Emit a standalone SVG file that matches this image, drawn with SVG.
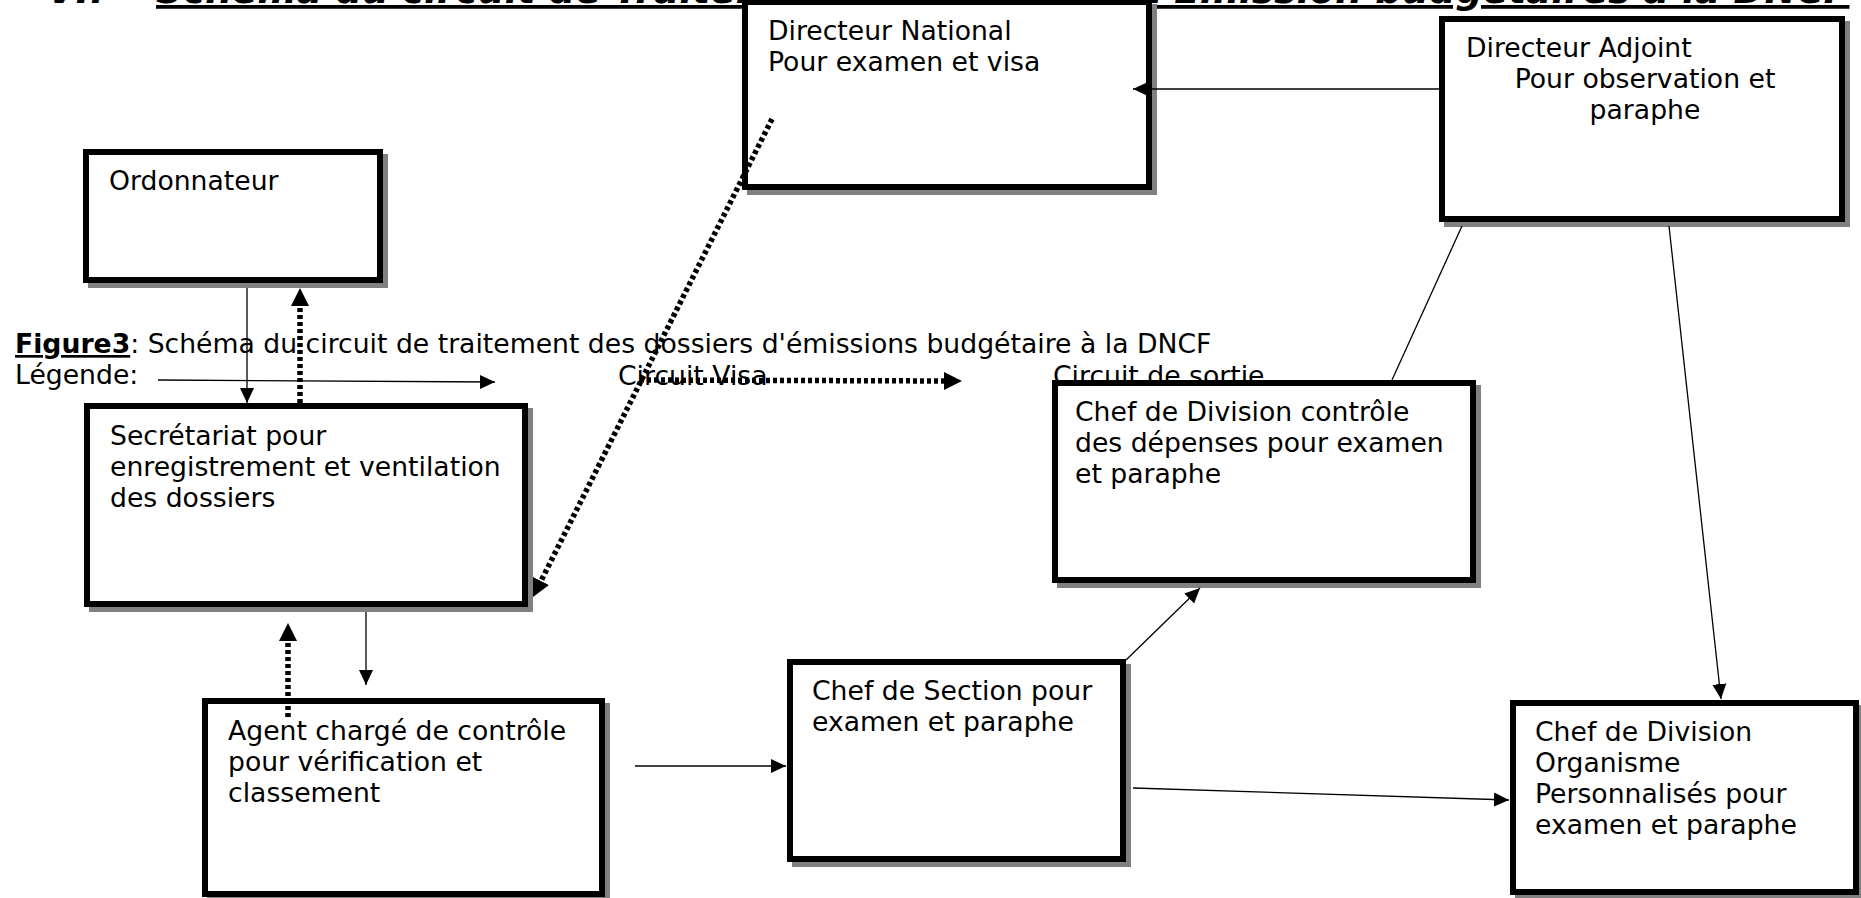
<svg xmlns="http://www.w3.org/2000/svg" width="1861" height="898" viewBox="0 0 1861 898">
<style>
.t{font-family:"DejaVu Sans","Liberation Sans",sans-serif;font-size:26.67px;fill:#000}
.ti{font-family:"DejaVu Sans","Liberation Sans",sans-serif;font-size:37.6px;font-weight:bold;font-style:italic;fill:#000}
.box{fill:#fff;stroke:#000;stroke-width:6}
.sh{fill:#808080}
.ln{stroke:#000;stroke-width:1.3;fill:none}
.dot{stroke:#000;stroke-width:5.5;stroke-dasharray:4 3;fill:none}
</style>
<defs>
<marker id="ah" markerUnits="userSpaceOnUse" markerWidth="16" markerHeight="16" viewBox="0 0 16 16" refX="15" refY="8" orient="auto"><path d="M0,1 L15,8 L0,15 z" fill="#000"/></marker>
<marker id="ahd" markerUnits="userSpaceOnUse" markerWidth="18" markerHeight="18" viewBox="0 0 18 18" refX="5" refY="9" orient="auto"><path d="M0,0 L18,9 L0,18 z" fill="#000"/></marker>
</defs>
<rect width="1861" height="898" fill="#fff"/>
<g id="title">
<text class="ti" x="47" y="3">VI.</text>
<text class="ti" x="156" y="3" text-decoration="underline">Schéma du circuit de Traitement des dossiers d'Émission budgétaires à la DNCF</text>
</g>
<g id="caption">
<text class="t" x="15" y="353"><tspan font-weight="bold" text-decoration="underline">Figure3</tspan>: Schéma du circuit de traitement des dossiers d'émissions budgétaire à la DNCF</text>
<text class="t" x="15" y="384">Légende:</text>
<text class="t" x="618" y="385">Circuit Visa</text>
<text class="t" x="1053" y="385">Circuit de sortie</text>
</g>
<g id="directeur-national">
<rect class="sh" x="747" y="4" width="410" height="191"/>
<rect class="box" x="745" y="2" width="404" height="185"/>
<text class="t" x="768" y="40">Directeur National</text>
<text class="t" x="768" y="71">Pour examen et visa</text>
</g>
<g id="directeur-adjoint">
<rect class="sh" x="1444" y="21" width="406" height="206"/>
<rect class="box" x="1442" y="19" width="400" height="200"/>
<text class="t" x="1466" y="57">Directeur Adjoint</text>
<text class="t" x="1645" y="88" text-anchor="middle">Pour observation et</text>
<text class="t" x="1645" y="119" text-anchor="middle">paraphe</text>
</g>
<g id="ordonnateur">
<rect class="sh" x="88" y="154" width="300" height="134"/>
<rect class="box" x="86" y="152" width="294" height="128"/>
<text class="t" x="109" y="190">Ordonnateur</text>
</g>
<g id="secretariat">
<rect class="sh" x="89" y="408" width="444" height="204"/>
<rect class="box" x="87" y="406" width="438" height="198"/>
<text class="t" x="110" y="445">Secrétariat pour</text>
<text class="t" x="110" y="476">enregistrement et ventilation</text>
<text class="t" x="110" y="507">des dossiers</text>
</g>
<g id="agent-controle">
<rect class="sh" x="207" y="703" width="403" height="199"/>
<rect class="box" x="205" y="701" width="397" height="193"/>
<text class="t" x="228" y="740">Agent chargé de contrôle</text>
<text class="t" x="228" y="771">pour vérification et</text>
<text class="t" x="228" y="802">classement</text>
</g>
<g id="chef-section">
<rect class="sh" x="792" y="664" width="339" height="203"/>
<rect class="box" x="790" y="662" width="333" height="197"/>
<text class="t" x="812" y="700">Chef de Section pour</text>
<text class="t" x="812" y="731">examen et paraphe</text>
</g>
<g id="chef-division-controle">
<rect class="sh" x="1057" y="385" width="424" height="203"/>
<rect class="box" x="1055" y="383" width="418" height="197"/>
<text class="t" x="1075" y="421">Chef de Division contrôle</text>
<text class="t" x="1075" y="452">des dépenses pour examen</text>
<text class="t" x="1075" y="483">et paraphe</text>
</g>
<g id="chef-division-organisme">
<rect class="sh" x="1515" y="705" width="349" height="195"/>
<rect class="box" x="1513" y="703" width="343" height="189"/>
<text class="t" x="1535" y="741">Chef de Division</text>
<text class="t" x="1535" y="772">Organisme</text>
<text class="t" x="1535" y="803">Personnalisés pour</text>
<text class="t" x="1535" y="834">examen et paraphe</text>
</g>
<g id="connectors">
<line class="ln" x1="158" y1="380" x2="495" y2="382" marker-end="url(#ah)"/>
<line class="dot" x1="640" y1="380" x2="949" y2="381" marker-end="url(#ahd)"/>
<line class="ln" x1="247" y1="288" x2="247" y2="403" marker-end="url(#ah)"/>
<line class="dot" x1="300" y1="403" x2="300" y2="301" marker-end="url(#ahd)"/>
<line class="ln" x1="366" y1="612" x2="366" y2="685" marker-end="url(#ah)"/>
<line class="dot" x1="288" y1="717" x2="288" y2="636" marker-end="url(#ahd)"/>
<line class="dot" x1="772" y1="119" x2="538.8" y2="585.4" marker-end="url(#ahd)"/>
<line class="ln" x1="635" y1="766" x2="786" y2="766" marker-end="url(#ah)"/>
<line class="ln" x1="1126" y1="660" x2="1200" y2="588" marker-end="url(#ah)"/>
<line class="ln" x1="1133" y1="788" x2="1509" y2="800" marker-end="url(#ah)"/>
<line class="ln" x1="1669" y1="226" x2="1721" y2="699" marker-end="url(#ah)"/>
<line class="ln" x1="1439" y1="89" x2="1133" y2="89" marker-end="url(#ah)"/>
<line class="ln" x1="1462" y1="226" x2="1392" y2="380"/>
</g>
</svg>
